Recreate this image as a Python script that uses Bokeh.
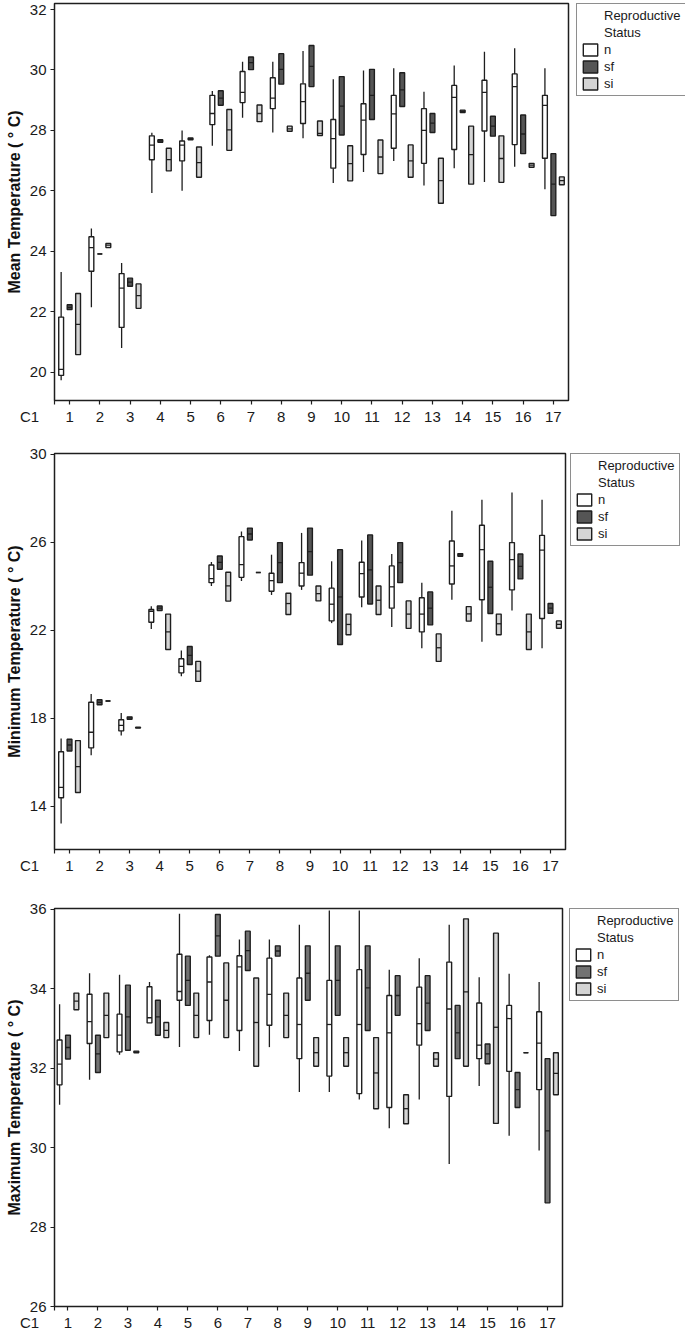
from bokeh.plotting import figure
from bokeh.models import FixedTicker, Legend, LegendItem, Range1d
from bokeh.layouts import column
from bokeh.embed import file_html
from bokeh.resources import INLINE

groups = list(range(1, 18))
tick_labels = [str(g) for g in groups]
axis_name = "C1"
statuses = ["n", "sf", "si"]

# ---------------- Mean temperature ----------------
mean_n_hi = [23.31, 24.75, 23.61, 27.92, 28.0, 29.3, 30.27, 30.27, 30.63, 29.69, 29.98, 30.06, 29.28, 30.15, 30.6, 30.72, 30.06]
mean_n_q3 = [21.82, 24.48, 23.26, 27.82, 27.65, 29.16, 29.95, 29.74, 29.54, 28.36, 28.88, 29.16, 28.72, 29.49, 29.66, 29.87, 29.16]
mean_n_med = [20.09, 24.12, 22.78, 27.51, 27.51, 28.56, 29.26, 29.07, 28.95, 27.73, 28.34, 28.55, 28.0, 29.09, 29.26, 29.45, 28.83]
mean_n_q1 = [19.89, 23.34, 21.48, 27.03, 26.99, 28.19, 28.92, 28.72, 28.23, 26.75, 27.2, 27.41, 26.91, 27.37, 27.98, 27.53, 27.08]
mean_n_lo = [19.73, 22.15, 20.8, 25.93, 26.0, 27.49, 28.42, 27.93, 27.74, 26.26, 26.62, 26.99, 26.18, 26.75, 26.29, 26.8, 26.05]

mean_sf_q3 = [22.23, 23.91, 23.11, 27.69, 27.75, 29.31, 30.43, 30.54, 30.81, 29.78, 30.02, 29.91, 28.56, 28.67, 28.47, 28.51, 27.23]
mean_sf_med = [22.14, 23.91, 22.98, 27.65, 27.72, 29.07, 30.24, 30.02, 30.12, 28.8, 29.16, 29.34, 28.24, 28.63, 28.14, 27.88, 26.22]
mean_sf_q1 = [22.07, 23.91, 22.84, 27.61, 27.69, 28.83, 30.01, 29.53, 29.45, 27.85, 28.36, 28.79, 27.93, 28.59, 27.81, 27.23, 25.18]

mean_si_q3 = [22.6, 24.26, 22.92, 27.41, 27.45, 28.69, 28.84, 28.14, 28.31, 27.49, 27.68, 27.52, 27.08, 28.14, 27.82, 26.91, 26.46]
mean_si_med = [21.58, 24.2, 22.53, 27.03, 26.93, 28.02, 28.56, 28.05, 27.9, 26.9, 27.12, 26.99, 26.34, 27.2, 27.07, 26.85, 26.34]
mean_si_q1 = [20.58, 24.12, 22.11, 26.66, 26.45, 27.34, 28.29, 27.97, 27.83, 26.33, 26.57, 26.45, 25.59, 26.22, 26.28, 26.78, 26.2]

# ---------------- Minimum temperature ----------------
min_n_hi = [17.07, 19.1, 18.23, 23.09, 21.08, 25.1, 26.48, 25.43, 26.42, 25.13, 26.08, 25.46, 24.16, 27.43, 27.93, 28.26, 27.93]
min_n_q3 = [16.47, 18.72, 17.93, 22.94, 20.7, 24.96, 26.25, 24.59, 25.07, 23.91, 25.09, 24.92, 23.47, 26.05, 26.77, 25.98, 26.31]
min_n_med = [14.85, 17.36, 17.67, 22.86, 20.35, 24.34, 24.98, 24.25, 24.59, 23.18, 24.57, 23.97, 22.73, 24.92, 25.66, 25.21, 25.64]
min_n_q1 = [14.38, 16.65, 17.42, 22.36, 20.06, 24.16, 24.4, 23.77, 24.01, 22.42, 23.51, 23.0, 21.92, 24.1, 23.38, 23.83, 22.53]
min_n_lo = [13.21, 16.31, 17.21, 22.05, 19.91, 24.01, 24.24, 23.6, 23.83, 22.32, 23.04, 22.14, 21.18, 23.38, 21.47, 22.89, 21.18]

min_sf_q3 = [17.04, 18.84, 18.06, 23.1, 21.26, 25.37, 26.64, 25.98, 26.64, 25.66, 26.33, 25.98, 23.74, 25.48, 25.13, 25.46, 23.21]
min_sf_med = [16.78, 18.72, 18.01, 23.0, 20.85, 25.08, 26.37, 25.07, 25.57, 23.51, 24.74, 25.07, 23.0, 25.42, 23.95, 24.9, 23.0]
min_sf_q1 = [16.51, 18.61, 17.95, 22.89, 20.44, 24.77, 26.1, 24.16, 24.5, 21.35, 23.19, 24.16, 22.24, 25.36, 22.76, 24.33, 22.77]

min_si_q3 = [16.98, 18.78, 17.59, 22.73, 20.58, 24.63, 24.62, 23.68, 24.01, 22.73, 24.01, 23.33, 21.83, 23.07, 22.73, 22.73, 22.42]
min_si_med = [15.8, 18.78, 17.57, 21.92, 20.14, 24.01, 24.62, 23.21, 23.66, 22.26, 23.36, 22.73, 21.2, 22.74, 22.29, 21.92, 22.26]
min_si_q1 = [14.62, 18.78, 17.55, 21.12, 19.67, 23.32, 24.62, 22.71, 23.33, 21.79, 22.71, 22.08, 20.58, 22.41, 21.79, 21.12, 22.09]

# ---------------- Maximum temperature ----------------
max_n_hi = [33.61, 34.39, 34.35, 34.17, 35.89, 34.84, 35.24, 35.24, 35.61, 35.97, 35.97, 34.48, 34.77, 35.61, 34.29, 34.38, 34.17]
max_n_q3 = [32.71, 33.86, 33.36, 34.05, 34.87, 34.8, 34.83, 34.77, 34.27, 34.21, 34.48, 33.83, 34.04, 34.67, 33.64, 33.58, 33.42]
max_n_med = [32.1, 33.17, 32.83, 33.27, 33.93, 34.17, 34.55, 33.86, 33.1, 33.1, 33.1, 32.89, 33.12, 33.49, 32.58, 33.25, 32.63]
max_n_q1 = [31.58, 32.62, 32.41, 33.14, 33.71, 33.2, 32.95, 33.08, 32.24, 31.8, 31.36, 31.01, 32.58, 31.29, 32.24, 31.92, 31.46]
max_n_lo = [31.08, 31.71, 32.34, 33.14, 32.53, 32.84, 32.43, 32.53, 31.4, 31.4, 31.21, 30.49, 31.21, 29.59, 31.55, 30.3, 29.93]

max_sf_q3 = [32.83, 32.83, 34.09, 33.71, 34.82, 35.87, 35.45, 35.08, 35.08, 35.08, 35.08, 34.33, 34.33, 33.58, 32.61, 31.89, 32.24]
max_sf_med = [32.52, 32.36, 33.29, 33.29, 34.21, 35.33, 34.96, 34.95, 34.39, 34.21, 34.02, 33.83, 33.64, 32.89, 32.36, 31.46, 30.42]
max_sf_q1 = [32.23, 31.89, 32.45, 32.83, 33.58, 34.82, 34.46, 34.82, 33.71, 33.33, 32.95, 33.33, 32.95, 32.24, 32.11, 31.01, 28.61]

max_si_q3 = [33.89, 33.89, 32.43, 33.15, 33.89, 34.65, 34.27, 33.89, 32.77, 32.77, 32.77, 31.33, 32.39, 35.76, 35.4, 32.39, 32.39]
max_si_med = [33.69, 33.33, 32.41, 32.95, 33.33, 33.71, 33.15, 33.33, 32.39, 32.39, 31.88, 30.98, 32.23, 33.92, 33.03, 32.39, 31.87]
max_si_q1 = [33.47, 32.77, 32.39, 32.77, 32.77, 32.77, 32.05, 32.77, 32.05, 32.05, 30.98, 30.6, 32.05, 32.05, 30.61, 32.39, 31.33]

mean_yticks = [20, 22, 24, 26, 28, 30, 32]
min_yticks = [14, 18, 22, 26, 30]
max_yticks = [26, 28, 30, 32, 34, 36]

FONT = "Liberation Sans"
LINE = "#1e1e1e"
OFFS = {"n": -0.28, "sf": 0.0, "si": 0.28}
HALF = 0.08
LEG_H = 93


def panel(ylabel, yrange, yticks, n_stats, sf_stats, si_stats, sf_color,
          frame_w, frame_h, mb_top, mb_bottom, mb_right, leg_gap, xstart=0.5):
    p = figure(frame_width=frame_w, frame_height=frame_h,
               x_range=Range1d(xstart, 17.5), y_range=Range1d(*yrange),
               output_backend="svg", toolbar_location=None,
               min_border_left=54, min_border_right=mb_right,
               min_border_top=mb_top, min_border_bottom=mb_bottom,
               background_fill_color="white", border_fill_color="white")
    p.xgrid.visible = False
    p.ygrid.visible = False
    p.outline_line_color = LINE
    p.outline_line_width = 1.5
    p.outline_line_alpha = 1.0
    for ax in (p.xaxis, p.yaxis):
        ax.axis_line_color = None
        ax.major_tick_in = 0
        ax.major_tick_out = 4
        ax.major_tick_line_color = LINE
        ax.major_tick_line_width = 1.2
        ax.minor_tick_line_color = None
        ax.major_label_text_font = FONT
        ax.major_label_text_font_size = "15px"
        ax.major_label_text_color = "#1a1a1a"
    # the "C1" caption sits at the start of the x axis, left of the frame
    p.xaxis.ticker = FixedTicker(ticks=[xstart] + groups)
    overrides = {g: t for g, t in zip(groups, tick_labels)}
    overrides[xstart] = axis_name + "\u00a0" * 12
    p.xaxis.major_label_overrides = overrides
    p.xaxis.major_label_standoff = 3
    p.yaxis.ticker = FixedTicker(ticks=yticks)
    p.yaxis.major_label_standoff = 4
    p.yaxis.axis_label = ylabel
    p.yaxis.axis_label_text_font = FONT
    p.yaxis.axis_label_text_font_size = "16px"
    p.yaxis.axis_label_text_font_style = "bold"
    p.yaxis.axis_label_text_color = "#111111"
    p.yaxis.axis_label_standoff = 4

    fills = {"n": "white", "sf": sf_color, "si": "#d4d4d4"}
    box_r = {}
    for st, stats in (("n", n_stats), ("sf", sf_stats), ("si", si_stats)):
        q1, med, q3 = stats[0], stats[1], stats[2]
        xs = [g + OFFS[st] for g in groups]
        if len(stats) == 5:
            lo, hi = stats[3], stats[4]
            p.segment(x0=xs, x1=xs, y0=q3, y1=hi, line_color=LINE, line_width=1.3)
            p.segment(x0=xs, x1=xs, y0=q1, y1=lo, line_color=LINE, line_width=1.3)
        box_r[st] = p.quad(left=[x - HALF for x in xs], right=[x + HALF for x in xs],
                           bottom=q1, top=q3, fill_color=fills[st],
                           line_color=LINE, line_width=1.4)
        p.segment(x0=[x - HALF for x in xs], x1=[x + HALF for x in xs], y0=med, y1=med,
                  line_color=LINE, line_width=1.3)

    inv = p.quad(left=[], right=[], bottom=[], top=[], fill_alpha=0, line_alpha=0)
    items = [LegendItem(label="Reproductive", renderers=[inv]),
             LegendItem(label="Status", renderers=[inv])]
    items += [LegendItem(label=st, renderers=[box_r[st]]) for st in statuses]
    legend = Legend(items=items, location=(leg_gap, frame_h - LEG_H),
                    glyph_width=18, glyph_height=15, label_height=15,
                    label_standoff=5, spacing=2, padding=4, margin=0,
                    label_text_font=FONT, label_text_font_size="13px",
                    label_text_color="#1a1a1a",
                    border_line_color=LINE, border_line_width=1.5,
                    background_fill_color="white", background_fill_alpha=1.0)
    p.add_layout(legend, "right")
    return p


p1 = panel("Mean Temperature ( ° C)", (19.06, 32.2), mean_yticks,
           (mean_n_q1, mean_n_med, mean_n_q3, mean_n_lo, mean_n_hi),
           (mean_sf_q1, mean_sf_med, mean_sf_q3),
           (mean_si_q1, mean_si_med, mean_si_q3),
           "#555555", 514, 397, 3, 45, 116, 8)
p2 = panel("Minimum Temperature ( ° C)", (12.03, 30.03), min_yticks,
           (min_n_q1, min_n_med, min_n_q3, min_n_lo, min_n_hi),
           (min_sf_q1, min_sf_med, min_sf_q3),
           (min_si_q1, min_si_med, min_si_q3),
           "#555555", 511, 396, 8, 51, 119, 5)
p3 = panel("Maximum Temperature ( ° C)", (26.0, 36.02), max_yticks,
           (max_n_q1, max_n_med, max_n_q3, max_n_lo, max_n_hi),
           (max_sf_q1, max_sf_med, max_sf_q3),
           (max_si_q1, max_si_med, max_si_q3),
           "#727272", 508, 398, 8, 25, 122, 7, xstart=0.55)

layout = column(p1, p2, p3, spacing=0)
open("out.html", "w").write(file_html(layout, INLINE))
